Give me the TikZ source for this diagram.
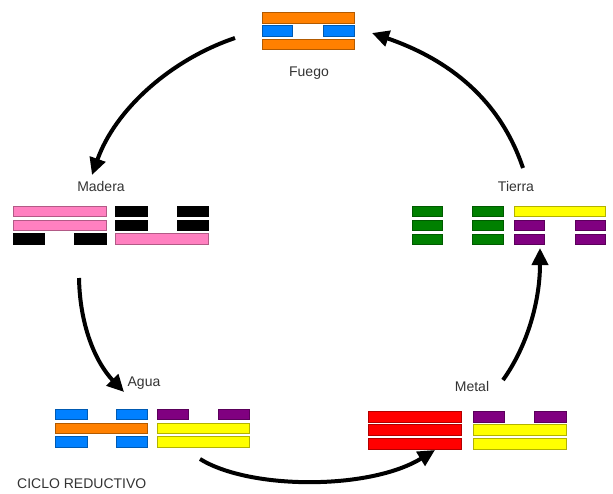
\documentclass[tikz,border=0pt]{standalone}
\usepackage{fontspec}
\setmainfont{Liberation Sans}
\usetikzlibrary{arrows.meta}
\definecolor{cOrange}{RGB}{255,128,0}
\definecolor{cBlue}{RGB}{0,128,255}
\definecolor{cPink}{RGB}{255,128,192}
\definecolor{cBlack}{RGB}{0,0,0}
\definecolor{cGreen}{RGB}{0,128,0}
\definecolor{cYellow}{RGB}{255,255,0}
\definecolor{cPurple}{RGB}{128,0,128}
\definecolor{cRed}{RGB}{255,0,0}
\newcommand\hbx[5]{\filldraw[barst=#5] (#1,#2) rectangle (#3,#4);}
\begin{document}
\begin{tikzpicture}[x=1pt,y=-1pt,
  barst/.style={fill=#1, draw=#1!70!black, line width=0.6pt},
  lbl/.style={font=\fontsize{14}{16}\selectfont, text=black!80, inner sep=0pt},
  flow/.style={line width=4pt, -{Triangle[length=17pt,width=16pt]}}]
\useasboundingbox (0,0) rectangle (613,493);
% Fuego
\hbx{262}{12}{354}{23}{cOrange}
\hbx{262}{25}{292}{36}{cBlue}
\hbx{323}{25}{354}{36}{cBlue}
\hbx{262}{39}{354}{49}{cOrange}
\node[lbl] (fuego) at (309,73) {Fuego};
% Madera
\hbx{13}{206}{106}{216}{cPink}
\hbx{13}{220}{106}{230}{cPink}
\hbx{13}{233}{44}{244}{cBlack}
\hbx{74}{233}{106}{244}{cBlack}
\hbx{115}{206}{147}{216}{cBlack}
\hbx{177}{206}{208}{216}{cBlack}
\hbx{115}{220}{147}{230}{cBlack}
\hbx{177}{220}{208}{230}{cBlack}
\hbx{115}{233}{208}{244}{cPink}
\node[lbl] (madera) at (101,186) {Madera};
% Tierra
\foreach \yy in {206,220,234}{
  \hbx{412}{\yy}{442}{\yy+10}{cGreen}
  \hbx{472}{\yy}{503}{\yy+10}{cGreen}
}
\hbx{514}{206}{605}{216}{cYellow}
\foreach \yy in {220,234}{
  \hbx{514}{\yy}{544}{\yy+10}{cPurple}
  \hbx{575}{\yy}{605}{\yy+10}{cPurple}
}
\node[lbl] (tierra) at (516,186) {Tierra};
% Agua
\hbx{55}{409}{87}{419}{cBlue}
\hbx{116}{409}{147}{419}{cBlue}
\hbx{55}{423}{147}{433}{cOrange}
\hbx{55}{436}{87}{447}{cBlue}
\hbx{116}{436}{147}{447}{cBlue}
\hbx{157}{409}{188}{419}{cPurple}
\hbx{218}{409}{249}{419}{cPurple}
\hbx{157}{423}{249}{433}{cYellow}
\hbx{157}{436}{249}{447}{cYellow}
\node[lbl] (agua) at (144,383) {Agua};
% Metal
\hbx{368}{411}{461}{422}{cRed}
\hbx{368}{424}{461}{435}{cRed}
\hbx{368}{438}{461}{449}{cRed}
\hbx{473}{411}{504}{422}{cPurple}
\hbx{534}{411}{566}{422}{cPurple}
\hbx{473}{424}{566}{435}{cYellow}
\hbx{473}{438}{566}{449}{cYellow}
\node[lbl] (metal) at (472,386) {Metal};
\node[lbl, anchor=west] (ciclo) at (17,484) {CICLO REDUCTIVO};
% arrow end points
\coordinate (a1s) at (235,38);  \coordinate (a1e) at (92,175);
\coordinate (a2s) at (79,278);  \coordinate (a2e) at (124,392);
\coordinate (a3s) at (200,459); \coordinate (a3e) at (435,450);
\coordinate (a4s) at (503,380); \coordinate (a4e) at (540,248);
\coordinate (a5s) at (523,168); \coordinate (a5e) at (372,33);
\draw[flow] (a1s) .. controls (170,60) and (115,110) .. (a1e);
\draw[flow] (a2s) .. controls (80,330) and (98,365) .. (a2e);
\draw[flow] (a3s) .. controls (250,490) and (370,490) .. (a3e);
\draw[flow] (a4s) .. controls (528,345) and (540,300) .. (a4e);
\draw[flow] (a5s) .. controls (500,100) and (450,60) .. (a5e);
\end{tikzpicture}
\end{document}
